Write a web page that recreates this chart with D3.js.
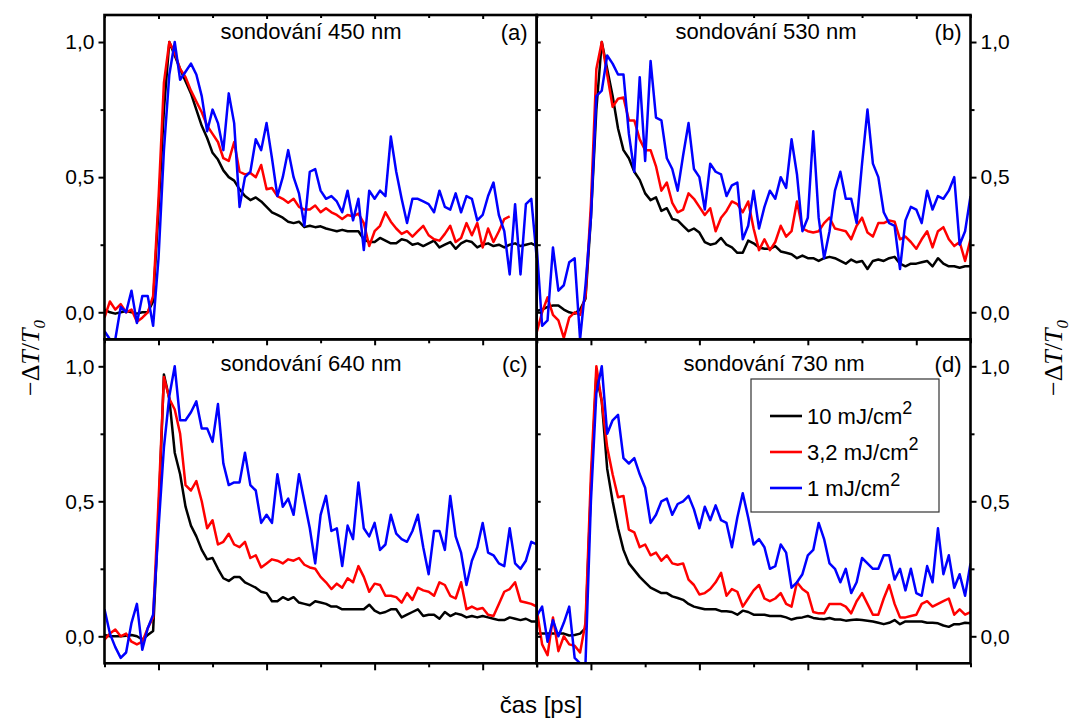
<!DOCTYPE html>
<html>
<head>
<meta charset="utf-8">
<script src="https://cdn.jsdelivr.net/npm/d3@7"></script>
<style>
  body { margin: 0; background: #fff; }
  text { font-family: "Liberation Sans", Arial, sans-serif; }
</style>
</head>
<body>
<div id="chart"></div>
<script>
// time grid in ps, one sample every 0.05
var time = d3.range(81).map(function (i) { return -0.5 + i * 0.05; });

// (a) probe 450 nm
var a10 = [0.01,0,-0.005,0,0.005,0,-0.005,0,0,0.04,0.38,0.75,1,0.95,0.9,0.855,0.81,0.75,0.69,0.645,0.59,0.565,0.525,0.5,0.487,0.455,0.43,0.415,0.425,0.41,0.39,0.37,0.36,0.35,0.335,0.33,0.335,0.315,0.32,0.315,0.318,0.31,0.305,0.3,0.305,0.3,0.3,0.3,0.27,0.26,0.26,0.275,0.265,0.255,0.255,0.27,0.265,0.25,0.255,0.245,0.255,0.265,0.24,0.25,0.26,0.235,0.255,0.265,0.26,0.24,0.25,0.255,0.245,0.25,0.24,0.25,0.255,0.245,0.25,0.255,0.245];
var a32 = [-0.02,0.04,0.01,0.03,0,0.01,-0.035,-0.02,0,0.06,0.42,0.85,1,0.96,0.9,0.87,0.82,0.78,0.74,0.69,0.66,0.63,0.57,0.56,0.63,0.52,0.51,0.515,0.5,0.545,0.455,0.46,0.43,0.42,0.405,0.42,0.39,0.38,0.38,0.395,0.37,0.385,0.37,0.36,0.345,0.36,0.355,0.365,0.33,0.245,0.3,0.32,0.37,0.335,0.31,0.29,0.3,0.28,0.3,0.32,0.285,0.27,0.265,0.29,0.32,0.26,0.275,0.33,0.285,0.33,0.24,0.31,0.26,0.3,0.345,0.355];
var a1 = [-0.07,-0.1,-0.1,0.02,0,0.08,-0.04,0.06,0.06,-0.05,0.2,0.6,0.88,1,0.86,0.89,0.92,0.88,0.8,0.67,0.75,0.7,0.6,0.81,0.7,0.39,0.5,0.52,0.64,0.6,0.7,0.57,0.43,0.5,0.6,0.5,0.44,0.32,0.52,0.53,0.45,0.42,0.43,0.41,0.37,0.45,0.34,0.42,0.23,0.45,0.42,0.45,0.43,0.65,0.52,0.42,0.33,0.42,0.42,0.41,0.4,0.37,0.45,0.39,0.38,0.44,0.37,0.43,0.42,0.34,0.36,0.43,0.48,0.36,0.3,0.14,0.4,0.14,0.4,0.42,0.2];

// (b) probe 530 nm
var b10 = [0.005,0.01,0.02,0.025,0.025,0.01,0,-0.005,0.01,0.05,0.35,0.75,1,0.9,0.8,0.68,0.6,0.57,0.52,0.49,0.44,0.415,0.425,0.375,0.385,0.345,0.34,0.32,0.3,0.31,0.295,0.26,0.25,0.255,0.275,0.25,0.24,0.22,0.22,0.265,0.255,0.24,0.235,0.235,0.245,0.225,0.22,0.215,0.2,0.21,0.2,0.2,0.19,0.2,0.205,0.2,0.19,0.18,0.195,0.185,0.19,0.16,0.19,0.195,0.19,0.2,0.205,0.18,0.17,0.18,0.18,0.185,0.19,0.17,0.2,0.18,0.17,0.17,0.165,0.17,0.17];
var b32 = [-0.075,0,0.055,-0.01,-0.03,-0.095,-0.02,0,-0.01,0.06,0.4,0.9,1,0.88,0.76,0.79,0.795,0.71,0.71,0.64,0.6,0.6,0.54,0.45,0.48,0.405,0.37,0.38,0.44,0.42,0.39,0.36,0.385,0.3,0.35,0.375,0.41,0.4,0.37,0.41,0.31,0.23,0.27,0.23,0.26,0.32,0.28,0.3,0.41,0.31,0.3,0.295,0.3,0.33,0.35,0.31,0.305,0.3,0.27,0.32,0.35,0.295,0.28,0.33,0.33,0.34,0.335,0.27,0.28,0.26,0.235,0.27,0.3,0.24,0.3,0.315,0.27,0.245,0.26,0.19,0.27];
var b1 = [0.245,-0.05,-0.03,0.24,0.08,0.1,0.185,0.2,-0.1,0.1,0.35,0.8,0.82,0.95,0.92,0.88,0.88,0.66,0.52,0.87,0.56,0.93,0.72,0.71,0.57,0.53,0.45,0.58,0.7,0.53,0.5,0.38,0.55,0.52,0.51,0.43,0.47,0.48,0.27,0.32,0.45,0.31,0.39,0.45,0.42,0.5,0.46,0.64,0.51,0.3,0.35,0.67,0.35,0.2,0.3,0.45,0.52,0.42,0.42,0.33,0.55,0.75,0.55,0.5,0.37,0.33,0.32,0.16,0.34,0.39,0.38,0.33,0.45,0.38,0.43,0.42,0.45,0.5,0.25,0.3,0.43];

// (c) probe 640 nm
var c10 = [0.005,0,0,0,0.002,0.005,0,-0.012,0.005,0.02,0.45,0.97,0.88,0.68,0.6,0.48,0.41,0.37,0.32,0.285,0.29,0.25,0.215,0.205,0.22,0.22,0.2,0.19,0.18,0.165,0.16,0.13,0.13,0.145,0.135,0.145,0.125,0.12,0.115,0.13,0.125,0.12,0.11,0.11,0.1,0.1,0.1,0.1,0.1,0.117,0.095,0.085,0.09,0.1,0.1,0.07,0.08,0.09,0.1,0.075,0.08,0.08,0.065,0.09,0.075,0.085,0.08,0.07,0.075,0.07,0.075,0.07,0.065,0.06,0.06,0.07,0.065,0.06,0.065,0.055,0.055];
var c32 = [-0.012,0.01,0.025,0,0.01,-0.02,-0.03,-0.02,0.03,0.07,0.5,0.96,0.88,0.84,0.75,0.56,0.54,0.575,0.5,0.4,0.43,0.34,0.35,0.38,0.34,0.33,0.35,0.29,0.3,0.255,0.27,0.285,0.28,0.27,0.285,0.28,0.29,0.265,0.255,0.25,0.22,0.2,0.175,0.195,0.18,0.215,0.2,0.26,0.22,0.165,0.195,0.19,0.15,0.15,0.145,0.125,0.16,0.135,0.18,0.17,0.165,0.15,0.2,0.19,0.15,0.14,0.2,0.1,0.11,0.1,0.105,0.08,0.075,0.12,0.165,0.175,0.2,0.13,0.125,0.12,0.11];
var c1 = [0.1,0.01,-0.04,-0.08,-0.06,0.05,0.12,-0.05,0.03,0.08,0.4,0.7,0.89,1,0.8,0.8,0.83,0.87,0.77,0.77,0.72,0.86,0.64,0.56,0.57,0.57,0.68,0.56,0.54,0.42,0.45,0.42,0.6,0.48,0.51,0.45,0.6,0.5,0.4,0.27,0.45,0.52,0.39,0.4,0.26,0.41,0.36,0.57,0.4,0.37,0.42,0.32,0.34,0.45,0.38,0.36,0.35,0.39,0.45,0.33,0.23,0.39,0.39,0.32,0.52,0.37,0.31,0.19,0.28,0.33,0.42,0.31,0.3,0.27,0.26,0.4,0.27,0.25,0.28,0.35,0.34];

// (d) probe 730 nm
var d10 = [0.01,0.01,0.01,0.01,0.01,0.01,0.003,0.005,0.01,0.03,0.55,0.97,0.87,0.62,0.5,0.4,0.32,0.27,0.245,0.22,0.2,0.18,0.17,0.16,0.16,0.148,0.142,0.135,0.12,0.11,0.105,0.1,0.1,0.1,0.093,0.093,0.09,0.08,0.095,0.09,0.08,0.08,0.08,0.075,0.075,0.075,0.07,0.062,0.068,0.07,0.075,0.068,0.065,0.063,0.068,0.062,0.062,0.058,0.06,0.062,0.06,0.058,0.055,0.05,0.045,0.05,0.06,0.045,0.055,0.055,0.055,0.055,0.05,0.05,0.048,0.04,0.035,0.045,0.045,0.05,0.048];
var d32 = [0.1,-0.03,-0.07,0.07,-0.055,0,-0.03,-0.035,-0.06,0.05,0.6,1,0.87,0.7,0.6,0.515,0.52,0.395,0.385,0.33,0.34,0.3,0.31,0.28,0.3,0.27,0.265,0.27,0.21,0.19,0.155,0.16,0.175,0.2,0.235,0.15,0.175,0.165,0.11,0.14,0.17,0.19,0.14,0.13,0.14,0.16,0.12,0.11,0.2,0.175,0.16,0.09,0.085,0.085,0.12,0.12,0.12,0.11,0.085,0.13,0.16,0.12,0.08,0.08,0.14,0.19,0.12,0.07,0.07,0.075,0.08,0.12,0.13,0.11,0.12,0.13,0.14,0.08,0.1,0.08,0.09];
var d1 = [0.075,0.11,-0.02,0.06,0,0.05,0.11,-0.08,-0.1,-0.1,0.5,0.9,1,0.75,0.8,0.82,0.66,0.64,0.66,0.6,0.55,0.42,0.45,0.5,0.51,0.45,0.49,0.5,0.52,0.47,0.4,0.48,0.43,0.485,0.43,0.42,0.33,0.44,0.53,0.44,0.34,0.36,0.33,0.25,0.26,0.34,0.31,0.18,0.2,0.23,0.3,0.32,0.42,0.36,0.27,0.25,0.2,0.25,0.16,0.2,0.29,0.27,0.25,0.25,0.3,0.3,0.21,0.25,0.17,0.25,0.16,0.15,0.26,0.2,0.4,0.23,0.3,0.18,0.23,0.15,0.27];

var legendLabels = ["10 mJ/cm", "3,2 mJ/cm", "1 mJ/cm"];
var colors = ["#000000", "#ff0000", "#0000ff"];
var yMajor = [0, 0.5, 1];
var yMinor = [0.25, 0.75];
var xMajor = [0, 1, 2, 3];
var xMinor = [-0.5, 0.5, 1.5, 2.5, 3.5];

var panels = [
    {id: "a", title: "sondování 450 nm", col: 0, row: 0, series: [a10, a32, a1], titleX: 311},
    {id: "b", title: "sondování 530 nm", col: 1, row: 0, series: [b10, b32, b1], titleX: 766},
    {id: "c", title: "sondování 640 nm", col: 0, row: 1, series: [c10, c32, c1], titleX: 311},
    {id: "d", title: "sondování 730 nm", col: 1, row: 1, series: [d10, d32, d1], titleX: 774}
];

var W = 1074, H = 719;
var colX = [104.5, 536.7, 970.5];
var rowY = [15, 339.3, 663.3];

var svg = d3.select("#chart").append("svg")
    .attr("width", W)
    .attr("height", H);

var fmt = function (d) { return d3.format(".1f")(d).replace(".", ","); };

panels.forEach(function (p) {
    var left = colX[p.col], right = colX[p.col + 1];
    var top = rowY[p.row], bottom = rowY[p.row + 1];

    var x = d3.scaleLinear().domain([-0.5, 3.5]).range([left, right]);
    var y = d3.scaleLinear().domain([-0.1, 1.1]).range([bottom, top]);

    svg.append("clipPath").attr("id", "clip-" + p.id)
        .append("rect")
        .attr("x", left).attr("y", top)
        .attr("width", right - left).attr("height", bottom - top);

    var line = d3.line()
        .x(function (d, i) { return x(time[i]); })
        .y(function (d) { return y(d); });

    var g = svg.append("g").attr("clip-path", "url(#clip-" + p.id + ")");
    p.series.forEach(function (s, i) {
        g.append("path")
            .attr("d", line(s))
            .attr("fill", "none")
            .attr("stroke", colors[i])
            .attr("stroke-width", 2.5)
            .attr("stroke-linejoin", "round");
    });

    // y axis, outside
    var yAx = p.col === 0 ? d3.axisLeft(y) : d3.axisRight(y);
    var yAxMinor = p.col === 0 ? d3.axisLeft(y) : d3.axisRight(y);
    var ax = p.col === 0 ? left : right;
    svg.append("g").attr("class", "axis")
        .attr("transform", "translate(" + ax + ",0)")
        .call(yAx.tickValues(yMajor).tickSize(6).tickPadding(4).tickFormat(fmt));
    svg.append("g").attr("class", "axis")
        .attr("transform", "translate(" + ax + ",0)")
        .call(yAxMinor.tickValues(yMinor).tickSize(4).tickFormat(""));

    // small inner ticks on the middle line
    if (p.col === 1) {
        svg.append("g").attr("class", "axis")
            .attr("transform", "translate(" + left + ",0)")
            .call(d3.axisLeft(y).tickValues(yMajor.concat(yMinor)).tickSize(-4).tickFormat(""));
    }

    // top edge ticks pointing in
    svg.append("g").attr("class", "axis")
        .attr("transform", "translate(0," + top + ")")
        .call(d3.axisTop(x).tickValues(xMajor).tickSize(p.row === 0 ? -4 : -6).tickFormat(""));
    svg.append("g").attr("class", "axis")
        .attr("transform", "translate(0," + top + ")")
        .call(d3.axisTop(x).tickValues(xMinor).tickSize(p.row === 0 ? -3 : -4).tickFormat(""));

    // bottom ticks, outside
    if (p.row === 1) {
        svg.append("g").attr("class", "axis")
            .attr("transform", "translate(0," + bottom + ")")
            .call(d3.axisBottom(x).tickValues(xMajor).tickSize(7).tickFormat(""));
        svg.append("g").attr("class", "axis")
            .attr("transform", "translate(0," + bottom + ")")
            .call(d3.axisBottom(x).tickValues(xMinor).tickSize(4).tickFormat(""));
    }

    // frame
    svg.append("rect")
        .attr("x", left).attr("y", top)
        .attr("width", right - left).attr("height", bottom - top)
        .attr("fill", "none")
        .attr("stroke", "#000")
        .attr("stroke-width", 2.6);

    var tY = p.row === 0 ? top + 24 : top + 32;
    svg.append("text")
        .attr("x", p.titleX).attr("y", tY)
        .attr("text-anchor", "middle")
        .attr("font-size", 22)
        .text(p.title);
    svg.append("text")
        .attr("x", right - 9).attr("y", tY + 1)
        .attr("text-anchor", "end")
        .attr("font-size", 22)
        .text("(" + p.id + ")");

    // legend only in (d)
    if (p.id === "d") {
        var lg = svg.append("g").attr("transform", "translate(751,379)");
        lg.append("rect")
            .attr("width", 188).attr("height", 133)
            .attr("fill", "#fff")
            .attr("stroke", "#333")
            .attr("stroke-width", 1.2);
        legendLabels.forEach(function (l, i) {
            var ly = 37 + i * 36;
            lg.append("line")
                .attr("x1", 19).attr("x2", 51)
                .attr("y1", ly).attr("y2", ly)
                .attr("stroke", colors[i])
                .attr("stroke-width", 2.6);
            var t = lg.append("text")
                .attr("x", 56).attr("y", ly + 8)
                .attr("font-size", 22)
                .text(l);
            t.append("tspan")
                .attr("font-size", 18)
                .attr("dy", -10)
                .text("2");
        });
    }
});

svg.selectAll(".axis path").remove();
svg.selectAll(".axis line").attr("stroke", "#000").attr("stroke-width", 2);
svg.selectAll(".axis text")
    .attr("font-family", "Liberation Sans, Arial, sans-serif")
    .attr("font-size", 21)
    .attr("fill", "#000");

// axis titles
function yTitle(tx, ty) {
    var t = svg.append("text")
        .attr("transform", "translate(" + tx + "," + ty + ") rotate(-90)")
        .attr("text-anchor", "middle")
        .style("font-family", "Liberation Serif, Times New Roman, serif")
        .attr("font-size", 26);
    t.append("tspan").text("\u2212\u0394");
    t.append("tspan").attr("font-style", "italic").text("T");
    t.append("tspan").text("/");
    t.append("tspan").attr("font-style", "italic").text("T");
    t.append("tspan").attr("font-style", "italic").attr("font-size", 17).attr("dy", 6).text("0");
}
yTitle(39, 358);
yTitle(1062, 358);

svg.append("text")
    .attr("x", 541).attr("y", 713)
    .attr("text-anchor", "middle")
    .attr("font-size", 24)
    .text("čas [ps]");
</script>
</body>
</html>
